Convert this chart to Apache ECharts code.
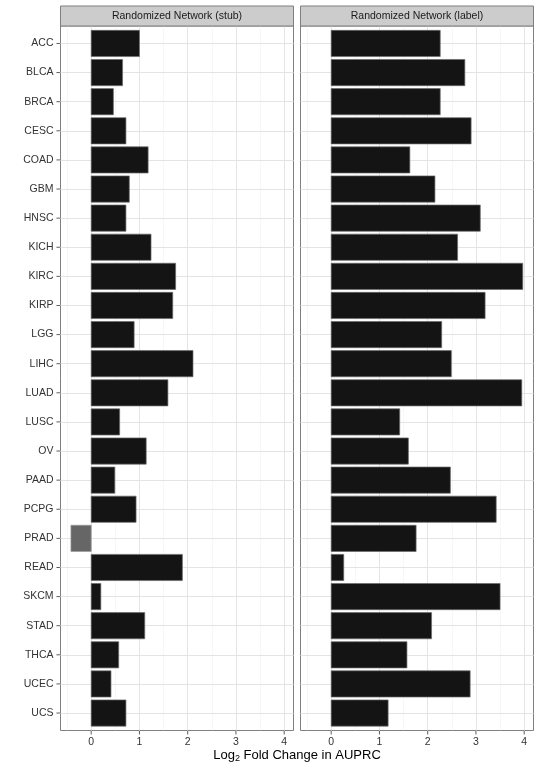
<!DOCTYPE html>
<html>
<head>
<meta charset="utf-8">
<script src="https://cdn.jsdelivr.net/npm/echarts@6/dist/echarts.min.js"></script>
<style>
  html, body { margin: 0; padding: 0; background: #fff; }
  #chart { width: 540px; height: 771px; }
</style>
</head>
<body>
<div id="chart"></div>
<script>
// 数据
var cancers = ['ACC', 'BLCA', 'BRCA', 'CESC', 'COAD', 'GBM', 'HNSC', 'KICH', 'KIRC', 'KIRP', 'LGG', 'LIHC',
  'LUAD', 'LUSC', 'OV', 'PAAD', 'PCPG', 'PRAD', 'READ', 'SKCM', 'STAD', 'THCA', 'UCEC', 'UCS'];
var stubValues = [1.00, 0.65, 0.46, 0.72, 1.18, 0.79, 0.72, 1.24, 1.75, 1.69, 0.89, 2.11,
  1.59, 0.59, 1.14, 0.49, 0.93, -0.42, 1.89, 0.20, 1.11, 0.57, 0.41, 0.72];
var labelValues = [2.26, 2.77, 2.26, 2.90, 1.63, 2.15, 3.09, 2.62, 3.97, 3.19, 2.29, 2.49,
  3.95, 1.42, 1.60, 2.47, 3.42, 1.76, 0.26, 3.50, 2.08, 1.57, 2.88, 1.18];
var panelTitles = ['Randomized Network (stub)', 'Randomized Network (label)'];
var xTicks = [0, 1, 2, 3, 4];
var xMinor = [-0.5, 0.5, 1.5, 2.5, 3.5];
var xMin = -0.636, xMax = 4.193;

// 行位置：ACC 在最上面
var n = cancers.length;
var rows = cancers.map(function (c, i) { return n - i; });
var yMin = 0.4, yMax = n + 0.6;
var font = '"Liberation Sans", Arial, sans-serif';

// 布局
var panelLeft = [60.5, 300.5];
var panelWidth = 233;
var panelTop = 26;
var panelHeight = 704.5;

function barItem(params, api) {
  var v = api.value(0);
  var row = api.value(1);
  var p0 = api.coord([0, row]);
  var p1 = api.coord([v, row]);
  var h = api.size([0, 0.9])[1];
  return {
    type: 'rect',
    shape: { x: Math.min(p0[0], p1[0]), y: p0[1] - h / 2, width: Math.abs(p1[0] - p0[0]), height: h },
    style: {
      fill: v < 0 ? '#666666' : '#141414',
      stroke: v < 0 ? '#9a9a9a' : '#6a6a6a',
      lineWidth: 0.7
    }
  };
}

function gridLines() {
  var d = [];
  xMinor.forEach(function (x) { d.push({ xAxis: x, lineStyle: { color: '#f2f2f2', width: 0.6, type: 'solid' } }); });
  xTicks.forEach(function (x) { d.push({ xAxis: x, lineStyle: { color: '#e4e4e4', width: 1, type: 'solid' } }); });
  rows.forEach(function (y) { d.push({ yAxis: y, lineStyle: { color: '#e4e4e4', width: 1, type: 'solid' } }); });
  return d;
}

// 刻度线（用 scatter 画）
function tickSeries(i, data, size, offset) {
  return {
    type: 'scatter', xAxisIndex: i, yAxisIndex: i, z: 5, silent: true, clip: false,
    symbol: 'rect', symbolSize: size, symbolOffset: offset,
    itemStyle: { color: '#333' },
    data: data
  };
}

var grids = [], xAxes = [], yAxes = [], series = [], graphics = [];
[stubValues, labelValues].forEach(function (vals, i) {
  grids.push({
    left: panelLeft[i], top: panelTop, width: panelWidth, height: panelHeight,
    show: true, backgroundColor: '#fff', borderColor: '#7f7f7f', borderWidth: 1
  });
  xAxes.push({
    type: 'value', gridIndex: i, min: xMin, max: xMax,
    axisLine: { show: false },
    splitLine: { show: false },
    axisTick: { show: false },
    axisLabel: { customValues: xTicks, color: '#333', fontSize: 10.5, fontFamily: font, margin: 6 }
  });
  yAxes.push({
    type: 'value', gridIndex: i, min: yMin, max: yMax,
    axisLine: { show: false },
    splitLine: { show: false },
    axisTick: { show: false },
    axisLabel: {
      show: i === 0, customValues: rows, color: '#333', fontSize: 10.5, fontFamily: font, margin: 7,
      formatter: function (v) { return cancers[n - Math.round(v)]; }
    }
  });
  series.push({
    type: 'line', xAxisIndex: i, yAxisIndex: i, data: [], silent: true,
    markLine: { z: 1, silent: true, symbol: ['none', 'none'], label: { show: false }, animation: false, data: gridLines() }
  });
  series.push({
    type: 'custom', name: panelTitles[i], xAxisIndex: i, yAxisIndex: i, z: 3,
    renderItem: barItem,
    data: vals.map(function (v, k) { return [v, rows[k]]; })
  });
  series.push(tickSeries(i, xTicks.map(function (t) { return [t, yMin]; }), [1, 3.5], [0, 2.3]));
  if (i === 0) {
    series.push(tickSeries(i, rows.map(function (r) { return [xMin, r]; }), [3.5, 1], [-2.3, 0]));
  }
  graphics.push({
    type: 'rect', shape: { x: panelLeft[i], y: 6, width: panelWidth, height: 20 },
    style: { fill: '#cccccc', stroke: '#7f7f7f', lineWidth: 1 }, z: 10
  });
  graphics.push({
    type: 'text', x: panelLeft[i] + panelWidth / 2, y: 16.5,
    style: { text: panelTitles[i], fill: '#1a1a1a', font: '10.5px ' + font, align: 'center', verticalAlign: 'middle' }, z: 11
  });
});

graphics.push({
  type: 'text', x: 297, y: 755,
  style: {
    text: '{a|Log}{s|2}{a| Fold Change in AUPRC}',
    align: 'center', verticalAlign: 'middle',
    rich: {
      a: { fontSize: 13, fontFamily: font, fill: '#000', lineHeight: 18 },
      s: { fontSize: 9, fontFamily: font, fill: '#000', lineHeight: 18, padding: [7, 0, 0, 0] }
    }
  }
});

var myChart = echarts.init(document.getElementById('chart'));
myChart.setOption({
  animation: false,
  grid: grids,
  xAxis: xAxes,
  yAxis: yAxes,
  series: series,
  graphic: graphics
});
</script>
</body>
</html>
